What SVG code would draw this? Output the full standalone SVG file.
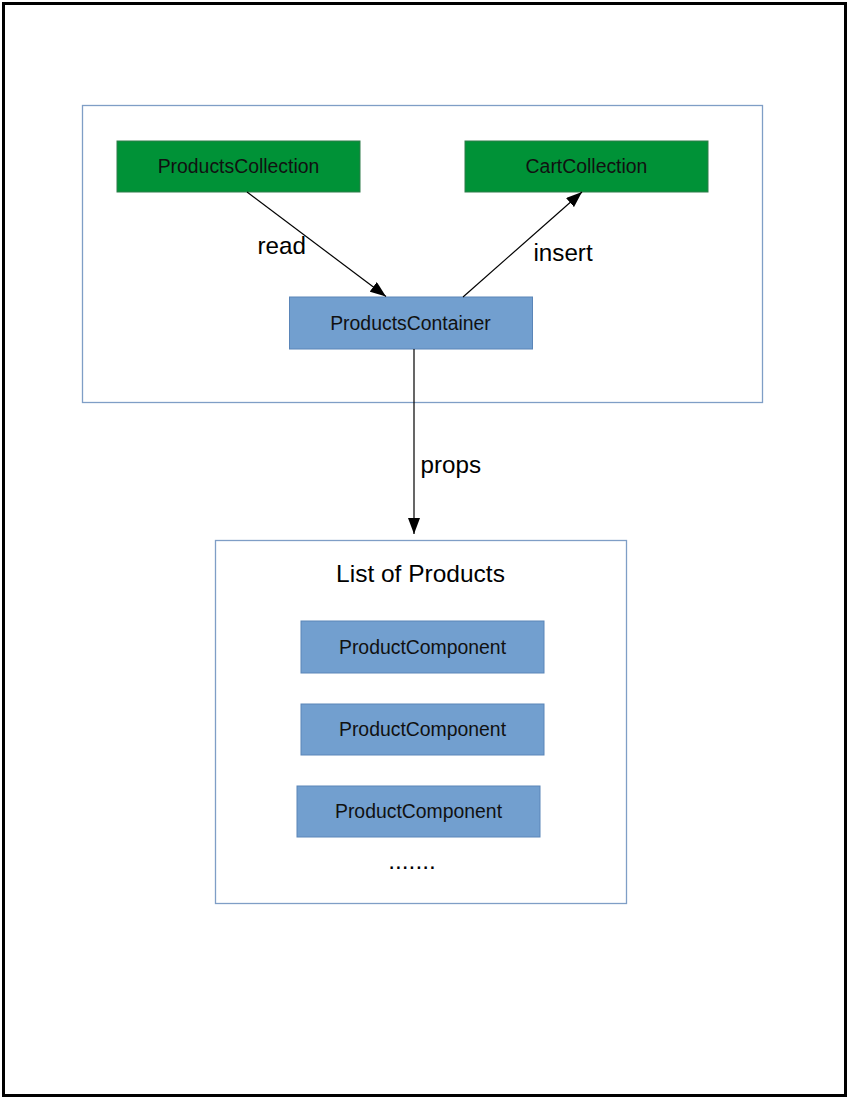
<svg xmlns="http://www.w3.org/2000/svg" width="849" height="1098" viewBox="0 0 849 1098">
  <style>
    .frame { fill: #ffffff; stroke: #000000; stroke-width: 3; }
    .group { fill: #ffffff; stroke: #7f9ec6; stroke-width: 1.3; }
    .green { fill: #009237; stroke: #2e7d4a; stroke-width: 1; }
    .blue { fill: #729fcf; stroke: #5a85b8; stroke-width: 1; }
    .node-text { font-family: "Liberation Sans", Arial, sans-serif; font-size: 19.4px; fill: #111111; text-anchor: middle; }
    .label { font-family: "Liberation Sans", Arial, sans-serif; font-size: 24.2px; fill: #000000; }
    .title { font-family: "Liberation Sans", Arial, sans-serif; font-size: 24.5px; fill: #000000; text-anchor: middle; }
    .edge { fill: none; stroke: #000000; stroke-width: 1.2; }
  </style>
  <defs>
    <marker id="arrow" viewBox="0 0 16 12" refX="16" refY="6" markerWidth="16" markerHeight="12" markerUnits="userSpaceOnUse" orient="auto">
      <path d="M0,0 L16,6 L0,12 Z" fill="#000000"/>
    </marker>
  </defs>

  <!-- page frame -->
  <rect class="frame" x="3.5" y="3.5" width="842" height="1092"/>

  <!-- container grouping data sources -->
  <g id="data-group">
    <rect class="group" x="82.5" y="105.5" width="680" height="297"/>
  </g>

  <g id="products-collection">
    <rect class="green" x="117" y="141" width="243" height="51"/>
    <text class="node-text" x="238.5" y="173">ProductsCollection</text>
  </g>

  <g id="cart-collection">
    <rect class="green" x="465" y="141" width="243" height="51"/>
    <text class="node-text" x="586.5" y="173">CartCollection</text>
  </g>

  <g id="products-container">
    <rect class="blue" x="289.5" y="297" width="243" height="52"/>
    <text class="node-text" x="410.5" y="330">ProductsContainer</text>
  </g>

  <!-- list of product components -->
  <g id="product-list">
    <rect class="group" x="215.5" y="540.5" width="411" height="363"/>
    <text class="title" x="420.5" y="582">List of Products</text>
    <text class="title" x="412" y="869">.......</text>
  </g>

  <g id="product-component-1">
    <rect class="blue" x="301" y="621" width="243" height="52"/>
    <text class="node-text" x="422.5" y="654">ProductComponent</text>
  </g>

  <g id="product-component-2">
    <rect class="blue" x="301" y="704" width="243" height="51"/>
    <text class="node-text" x="422.5" y="736">ProductComponent</text>
  </g>

  <g id="product-component-3">
    <rect class="blue" x="297" y="786" width="243" height="51"/>
    <text class="node-text" x="418.5" y="818">ProductComponent</text>
  </g>

  <!-- connectors -->
  <g id="connectors">
    <line class="edge" x1="247" y1="192" x2="386" y2="296.5" marker-end="url(#arrow)"/>
    <line class="edge" x1="463" y1="297" x2="582" y2="192" marker-end="url(#arrow)"/>
    <line class="edge" x1="414" y1="349" x2="414" y2="534" marker-end="url(#arrow)"/>
    <text class="label" x="257.5" y="254">read</text>
    <text class="label" x="533.5" y="261">insert</text>
    <text class="label" x="420.5" y="473">props</text>
  </g>
</svg>
